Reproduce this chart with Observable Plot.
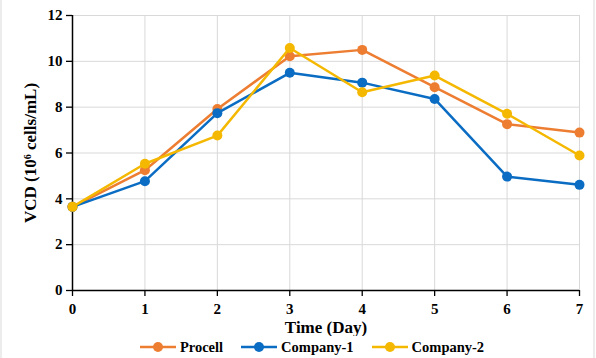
<!DOCTYPE html>
<html>
<head>
<meta charset="utf-8">
<script src="https://cdn.jsdelivr.net/npm/d3@7"></script>
<script src="https://cdn.jsdelivr.net/npm/@observablehq/plot@0.6"></script>
<style>
  html, body { margin: 0; padding: 0; background: #fff; }
  #wrap { width: 596px; height: 358px; position: relative; overflow: hidden; font-family: 'Liberation Serif', 'Times New Roman', serif; font-weight: bold; }
  #legend { display: flex; justify-content: center; align-items: center; gap: 18px; height: 22px; font-size: 14.5px; color: #000; padding-left: 28px; }
  .item { display: flex; align-items: center; gap: 4px; }
  .edge { position: absolute; top: 0; width: 2px; height: 358px; background: #ececec; }
</style>
</head>
<body>
<div id="wrap"><div id="chart"></div><div id="legend"></div><div class="edge" style="left:0"></div><div class="edge" style="left:593px"></div></div>
<script>
const days = [0, 1, 2, 3, 4, 5, 6, 7];
const yTicks = [0, 2, 4, 6, 8, 10, 12];
const seriesNames = ["Procell", "Company-1", "Company-2"];
const seriesColors = ["#ED7D31", "#0A6CC2", "#F5B800"];
const procell  = [3.65, 5.25, 7.92, 10.22, 10.50, 8.87, 7.26, 6.89];
const company1 = [3.65, 4.77, 7.74, 9.50, 9.07, 8.36, 4.97, 4.61];
const company2 = [3.65, 5.53, 6.76, 10.58, 8.65, 9.38, 7.71, 5.89];
const xTitle = "Time (Day)";
const yTitle = "VCD (10\u2076 cells/mL)";

const valuesBySeries = [procell, company1, company2];
const rows = seriesNames.flatMap((s, i) => days.map((d, j) => ({series: s, day: d, vcd: valuesBySeries[i][j]})));

const marks = [
  Plot.gridX(days, {stroke: "#d9d9d9", strokeOpacity: 1, strokeWidth: 1}),
  Plot.gridY(yTicks, {stroke: "#d9d9d9", strokeOpacity: 1, strokeWidth: 1}),
  Plot.axisX(days, {tickSize: 6, tickPadding: 7, label: null, fontSize: 15, strokeWidth: 1.3}),
  Plot.axisY(yTicks, {tickSize: 6, tickPadding: 4, label: null, fontSize: 15, strokeWidth: 1.3}),
  Plot.ruleX([0], {stroke: "#000", strokeWidth: 1.5}),
  Plot.ruleY([0], {stroke: "#000", strokeWidth: 1.5})
];
seriesNames.forEach((s, i) => {
  const data = rows.filter(r => r.series === s);
  marks.push(Plot.line(data, {x: "day", y: "vcd", stroke: seriesColors[i], strokeWidth: 2.5}));
  marks.push(Plot.dot(data, {x: "day", y: "vcd", fill: seriesColors[i], r: 5}));
});
marks.push(Plot.text([xTitle], {frameAnchor: "bottom", lineAnchor: "middle", textAnchor: "middle", dy: 37, fontSize: 17, text: d => d}));
marks.push(Plot.text([yTitle], {frameAnchor: "left", lineAnchor: "middle", textAnchor: "middle", rotate: -90, dx: -42, fontSize: 17, text: d => d}));

const chart = Plot.plot({
  width: 596,
  height: 336,
  marginLeft: 72,
  marginRight: 17,
  marginTop: 15,
  marginBottom: 46,
  style: {fontFamily: "'Liberation Serif', 'Times New Roman', serif", fontWeight: "bold", fontSize: "15px", color: "#000", background: "#fff"},
  x: {domain: [0, 7]},
  y: {domain: [0, 12]},
  marks
});
document.getElementById("chart").appendChild(chart);

const legend = document.getElementById("legend");
seriesNames.forEach((s, i) => {
  const item = document.createElement("div");
  item.className = "item";
  item.innerHTML = `<svg width="36" height="12"><line x1="0" y1="6" x2="36" y2="6" stroke="${seriesColors[i]}" stroke-width="2.5"/><circle cx="18" cy="6" r="5" fill="${seriesColors[i]}"/></svg><span>${s}</span>`;
  legend.appendChild(item);
});
</script>
</body>
</html>
